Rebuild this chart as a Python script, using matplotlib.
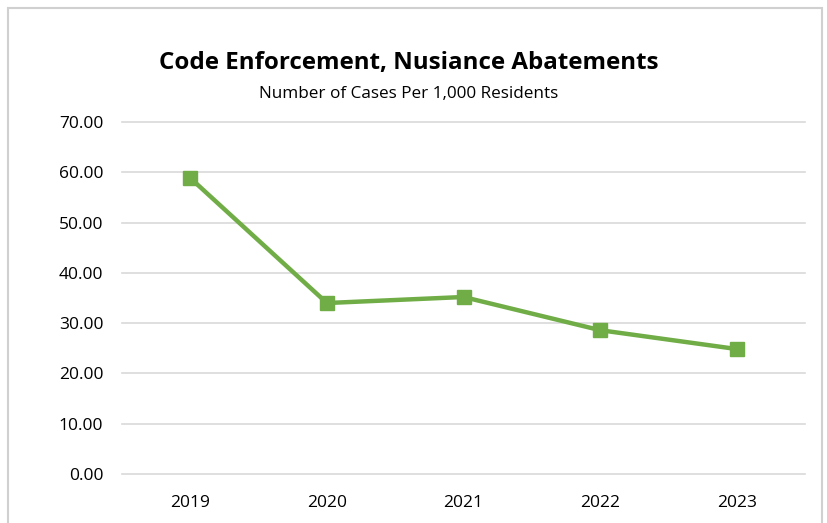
import matplotlib.pyplot as plt
from matplotlib.patches import Rectangle

years = ['2019', '2020', '2021', '2022', '2023']
cases = [58.85, 34.0, 35.2, 28.6, 24.85]
yticks = [0, 10, 20, 30, 40, 50, 60, 70]

plt.rcParams['font.family'] = ['Open Sans', 'DejaVu Sans']

W, H = 827, 523
fig = plt.figure(figsize=(W/100, H/100), dpi=100)
# plot area in pixel coords: x 122..805, y 122..474
ax = fig.add_axes([122/W, 1-474/H, (805-122)/W, (474-122)/H])

x = range(len(years))
ax.plot(x, cases, color='#70AD47', lw=3.2, marker='s', ms=9.5, zorder=3)

ax.set_xlim(-0.5, len(years)-0.5)
ax.set_ylim(0, 70)
ax.set_yticks(yticks)
ax.set_yticklabels(['%.2f' % v for v in yticks])
ax.set_xticks(list(x))
ax.set_xticklabels(years)
ax.tick_params(length=0, labelsize=12.5, colors='#000000')
ax.tick_params(axis='y', pad=13.5)
ax.tick_params(axis='x', pad=15)
ax.grid(axis='y', color='#D9D9D9', lw=1.2)
for g in ax.get_ygridlines():
    g.set_clip_on(False)
ax.set_axisbelow(True)
for s in ax.spines.values():
    s.set_visible(False)

fig.text(409/W, 1-63/H, 'Code Enforcement, Nusiance Abatements', ha='center', va='center',
         fontsize=17.4, fontweight='bold')
fig.text(409/W, 1-94/H, 'Number of Cases Per 1,000 Residents', ha='center', va='center',
         fontsize=12.3)

# chart border
fig.patches.append(Rectangle((8/W, -0.1), (822-8)/W, 1.1-8/H, transform=fig.transFigure,
                             fill=False, ec='#D0D0D0', lw=1.5))

fig.savefig('out.png', dpi=100)
